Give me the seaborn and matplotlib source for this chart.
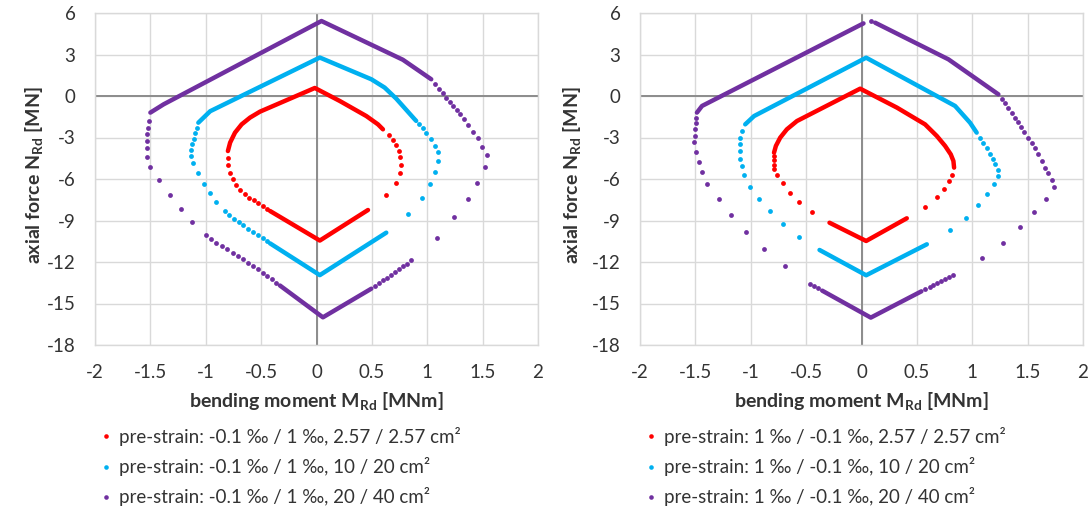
import numpy as np
import pandas as pd
import matplotlib
matplotlib.use("Agg")
import matplotlib.pyplot as plt
import seaborn as sns
from matplotlib.lines import Line2D

# ---------------- data ----------------
X_TICKS = [-2, -1.5, -1, -0.5, 0, 0.5, 1, 1.5, 2]
X_TICK_LABELS = ["-2", "-1.5", "-1", "-0.5", "0", "0.5", "1", "1.5", "2"]
Y_TICKS = [-18, -15, -12, -9, -6, -3, 0, 3, 6]
Y_TICK_LABELS = ["-18", "-15", "-12", "-9", "-6", "-3", "0", "3", "6"]

LEFT_LABELS = ["pre-strain: -0.1 \u2030 / 1 \u2030, 2.57 / 2.57 cm\u00b2",
               "pre-strain: -0.1 \u2030 / 1 \u2030, 10 / 20 cm\u00b2",
               "pre-strain: -0.1 \u2030 / 1 \u2030, 20 / 40 cm\u00b2"]
RIGHT_LABELS = ["pre-strain: 1 \u2030 / -0.1 \u2030, 2.57 / 2.57 cm\u00b2",
                "pre-strain: 1 \u2030 / -0.1 \u2030, 10 / 20 cm\u00b2",
                "pre-strain: 1 \u2030 / -0.1 \u2030, 20 / 40 cm\u00b2"]

# ----- left panel -----
# red (2.57 / 2.57 cm²): densely packed runs and separate points
L_RED_RUN_M = [[-0.80, -0.78, -0.736, -0.676, -0.60, -0.51, -0.015, 0.21, 0.45, 0.555, 0.60],
               [-0.42, 0.03, 0.465]]
L_RED_RUN_N = [[-3.98, -3.37, -2.65, -2.05, -1.56, -1.13, 0.58, -0.36, -1.45, -2.05, -2.41],
               [-8.31, -10.45, -8.24]]
L_RED_DOT_M = [-0.80, -0.796, -0.78, -0.757, -0.727, -0.69, -0.646, -0.607, -0.565, -0.526, -0.487, -0.45,
               0.654, 0.69, 0.72, 0.741, 0.757, 0.76, 0.75, 0.714, 0.63]
L_RED_DOT_N = [-4.46, -5.01, -5.54, -6.02, -6.46, -6.82, -7.11, -7.35, -7.54, -7.76, -7.95, -8.14,
               -2.84, -3.18, -3.56, -3.98, -4.38, -4.99, -5.59, -6.31, -7.18]

# cyan (10 / 20 cm²)
L_CYAN_RUN_M = [[-1.067, -0.96, 0.03, 0.495, 0.615, 0.72, 0.886, 0.90],
                [-0.42, 0.03, 0.63]]
L_CYAN_RUN_N = [[-1.93, -1.10, 2.78, 1.21, 0.61, -0.19, -1.68, -1.80],
                [-10.65, -12.95, -9.88]]
L_CYAN_DOT_M = [-1.08, -1.096, -1.11, -1.12, -1.13, -1.13, -1.117, -1.07, -1.02, -0.96, -0.907, -0.83,
                -0.787, -0.745, -0.703, -0.661, -0.616, -0.571, -0.529, -0.487, -0.445,
                0.925, 0.96, 0.99, 1.03, 1.066, 1.10, 1.10, 1.07, 1.024, 0.95, 0.83]
L_CYAN_DOT_N = [-2.29, -2.65, -3.08, -3.49, -3.90, -4.34, -4.87, -5.54, -6.34, -7.04, -7.66, -8.31,
                -8.63, -8.87, -9.11, -9.35, -9.59, -9.83, -10.05, -10.29, -10.51,
                -2.00, -2.31, -2.70, -3.08, -3.62, -4.05, -4.72, -5.52, -6.38, -7.40, -8.50]

# purple (20 / 40 cm²)
L_PURPLE_RUN_M = [[-1.50, -1.38, 0.045, 0.78, 1.036],
                  [-0.33, 0.058, 0.495]]
L_PURPLE_RUN_N = [[-1.20, -0.60, 5.42, 2.62, 1.21],
                  [-13.70, -16.00, -13.93]]
L_PURPLE_DOT_M = [-1.51, -1.517, -1.526, -1.53, -1.53, -1.526, -1.50, -1.418, -1.32, -1.22, -1.126,
                  -1.0, -0.955, -0.907, -0.856, -0.805, -0.757, -0.712, -0.667, -0.622, -0.577,
                  -0.532, -0.487, -0.445, -0.405, -0.367,
                  0.53, 0.565, 0.60, 0.635, 0.67, 0.71, 0.745, 0.78, 0.815, 0.855,
                  1.066, 1.105, 1.14, 1.17, 1.207, 1.237, 1.267, 1.297, 1.333, 1.372, 1.41, 1.456,
                  1.495, 1.54, 1.52, 1.447, 1.366, 1.246, 1.087]
L_PURPLE_DOT_N = [-1.81, -2.29, -2.77, -3.25, -3.73, -4.38, -5.11, -6.10, -7.18, -8.14, -9.11,
                  -10.05, -10.36, -10.60, -10.85, -11.08, -11.32, -11.57, -11.81, -12.04, -12.29,
                  -12.53, -12.77, -13.02, -13.25, -13.49,
                  -13.73, -13.53, -13.33, -13.13, -12.93, -12.71, -12.51, -12.31, -12.11, -11.88,
                  0.85, 0.48, 0.20, -0.12, -0.43, -0.72, -1.01, -1.32, -1.68, -2.12, -2.57, -3.06,
                  -3.66, -4.29, -5.16, -6.26, -7.47, -8.77, -10.27]

# ----- right panel -----
R_RED_RUN_M = [[-0.79, -0.773, -0.734, -0.674, -0.583, -0.012, 0.32, 0.574, 0.68, 0.755, 0.806, 0.83, 0.836],
               [-0.289, 0.042, 0.409]]
R_RED_RUN_N = [[-4.10, -3.61, -3.01, -2.41, -1.81, 0.53, -0.84, -2.05, -2.89, -3.61, -4.22, -4.70, -5.18],
               [-9.16, -10.48, -8.84]]
R_RED_DOT_M = [-0.788, -0.794, -0.794, -0.788, -0.764, -0.713, -0.65, -0.562, -0.448,
               0.815, 0.791, 0.749, 0.68, 0.574]
R_RED_DOT_N = [-4.34, -4.65, -4.99, -5.30, -5.71, -6.31, -6.99, -7.66, -8.36,
               -5.73, -6.14, -6.70, -7.30, -8.00]

R_CYAN_RUN_M = [[-1.05, -0.97, 0.042, 0.845, 0.98, 1.04],
                [-0.379, 0.042, 0.59]]
R_CYAN_RUN_N = [[-2.05, -1.45, 2.77, -0.72, -1.93, -2.65],
                [-11.13, -12.96, -10.72]]
R_CYAN_DOT_M = [-1.08, -1.095, -1.10, -1.10, -1.095, -1.08, -1.06, -1.005, -0.93, -0.83, -0.713, -0.56,
                1.07, 1.10, 1.13, 1.16, 1.185, 1.206, 1.23, 1.236, 1.20, 1.137, 1.05, 0.944, 0.80]
R_CYAN_DOT_N = [-2.53, -3.01, -3.49, -3.98, -4.53, -5.06, -5.71, -6.55, -7.42, -8.31, -9.23, -10.19,
                -3.01, -3.37, -3.78, -4.17, -4.53, -4.94, -5.35, -5.78, -6.39, -7.10, -7.88, -8.80, -9.69]

R_PURPLE_RUN_M = [[-1.486, -1.44, 0.018],
                  [0.123, 0.785, 1.236],
                  [-0.355, 0.084, 0.541]]
R_PURPLE_RUN_N = [[-1.20, -0.72, 5.25],
                  [5.30, 2.65, 0.12],
                  [-14.07, -16.02, -14.12]]
R_PURPLE_DOT_M = [0.084,
                  -1.492, -1.495, -1.50, -1.507, -1.51, -1.492, -1.465, -1.44, -1.395, -1.29, -1.176,
                  -1.04, -0.878, -0.689,
                  -0.463, -0.427, -0.391,
                  0.830, 0.794, 0.758, 0.722, 0.686, 0.650, 0.614, 0.577,
                  1.266, 1.296, 1.326, 1.356, 1.386, 1.41, 1.438, 1.47, 1.507, 1.537, 1.567, 1.597,
                  1.627, 1.657, 1.687, 1.717, 1.738, 1.666, 1.558, 1.432, 1.281, 1.092]
R_PURPLE_DOT_N = [5.42,
                  -1.57, -1.98, -2.41, -2.89, -3.33, -4.02, -4.75, -5.49, -6.34, -7.47, -8.63,
                  -9.81, -11.04, -12.29,
                  -13.57, -13.73, -13.90,
                  -12.96, -13.11, -13.25, -13.40, -13.54, -13.69, -13.83, -13.98,
                  -0.19, -0.53, -0.84, -1.20, -1.57, -1.88, -2.22, -2.60, -3.01, -3.37, -3.73, -4.22,
                  -4.70, -5.18, -5.59, -6.07, -6.58, -7.42, -8.39, -9.47, -10.60, -11.73]

COLORS = ["#FF0000", "#00B0F0", "#7030A0"]

# ---------------- style ----------------
sns.set_theme(style="white")
plt.rcParams["font.family"] = ["Lato", "DejaVu Sans"]
plt.rcParams["axes.unicode_minus"] = False
plt.rcParams["mathtext.fontset"] = "custom"
plt.rcParams["mathtext.rm"] = "Lato:bold"
plt.rcParams["mathtext.it"] = "Lato:bold"
plt.rcParams["mathtext.bf"] = "Lato:bold"

TEXT_COLOR = "#333333"
W, H = 1092, 512
fig = plt.figure(figsize=(W / 100, H / 100), dpi=100)

panels = [
    dict(left=95, label_x=45, leg_x=100, labels=LEFT_LABELS,
         series=[(L_RED_RUN_M, L_RED_RUN_N, L_RED_DOT_M, L_RED_DOT_N),
                 (L_CYAN_RUN_M, L_CYAN_RUN_N, L_CYAN_DOT_M, L_CYAN_DOT_N),
                 (L_PURPLE_RUN_M, L_PURPLE_RUN_N, L_PURPLE_DOT_M, L_PURPLE_DOT_N)]),
    dict(left=640, label_x=583, leg_x=645, labels=RIGHT_LABELS,
         series=[(R_RED_RUN_M, R_RED_RUN_N, R_RED_DOT_M, R_RED_DOT_N),
                 (R_CYAN_RUN_M, R_CYAN_RUN_N, R_CYAN_DOT_M, R_CYAN_DOT_N),
                 (R_PURPLE_RUN_M, R_PURPLE_RUN_N, R_PURPLE_DOT_M, R_PURPLE_DOT_N)]),
]

AX_W, AX_TOP, AX_BOT = 443, 13, 345

for p in panels:
    ax = fig.add_axes([p["left"] / W, 1 - AX_BOT / H, AX_W / W, (AX_BOT - AX_TOP) / H])
    ax.set_xlim(-2, 2)
    ax.set_ylim(-18, 6)
    ax.set_xticks(X_TICKS)
    ax.set_xticklabels(X_TICK_LABELS)
    ax.set_yticks(Y_TICKS)
    ax.set_yticklabels(Y_TICK_LABELS)
    ax.grid(True, color="#D9D9D9", lw=1.0, zorder=0)
    ax.set_axisbelow(True)
    ax.axhline(0, color="#8C8C8C", lw=1.4, zorder=1)
    ax.axvline(0, color="#8C8C8C", lw=1.4, zorder=1)
    for s in ax.spines.values():
        s.set_color("#D9D9D9")
        s.set_linewidth(1.0)
    ax.tick_params(length=0, labelsize=13.5, colors=TEXT_COLOR)
    ax.tick_params(axis="x", pad=14)
    ax.tick_params(axis="y", pad=14)

    for color, (run_m, run_n, dot_m, dot_n) in zip(COLORS, p["series"]):
        ms, ns, ids = [], [], []
        for i, (rm, rn) in enumerate(zip(run_m, run_n)):
            ms += rm
            ns += rn
            ids += [i] * len(rm)
        df_run = pd.DataFrame({"M": ms, "N": ns, "run": ids})
        sns.lineplot(data=df_run, x="M", y="N", units="run", estimator=None, sort=False,
                     color=color, lw=3.2, ax=ax, legend=False, zorder=3,
                     solid_capstyle="round", solid_joinstyle="round")
        df_dot = pd.DataFrame({"M": dot_m, "N": dot_n})
        sns.scatterplot(data=df_dot, x="M", y="N", color=color, s=12, linewidth=0,
                        ax=ax, legend=False, zorder=3)

    ax.set_xlabel("bending moment M$_{\\mathrm{Rd}}$ [MNm]", fontsize=14,
                  fontweight="bold", color=TEXT_COLOR, labelpad=6)
    ax.set_ylabel("axial force N$_{\\mathrm{Rd}}$ [MN]", fontsize=14,
                  fontweight="bold", color=TEXT_COLOR)
    ax.yaxis.set_label_coords((p["label_x"] - p["left"]) / AX_W, 0.51)

    handles = [Line2D([], [], marker="o", ls="", color=c, ms=3.3, mew=0) for c in COLORS]
    fig.legend(handles, p["labels"], loc="upper left",
               bbox_to_anchor=(p["leg_x"] / W, 1 - 427 / H),
               frameon=False, fontsize=13.5, handlelength=0.6, handletextpad=0.42,
               labelspacing=0.6, borderpad=0, borderaxespad=0, labelcolor=TEXT_COLOR)

fig.savefig("out.png", dpi=100)
